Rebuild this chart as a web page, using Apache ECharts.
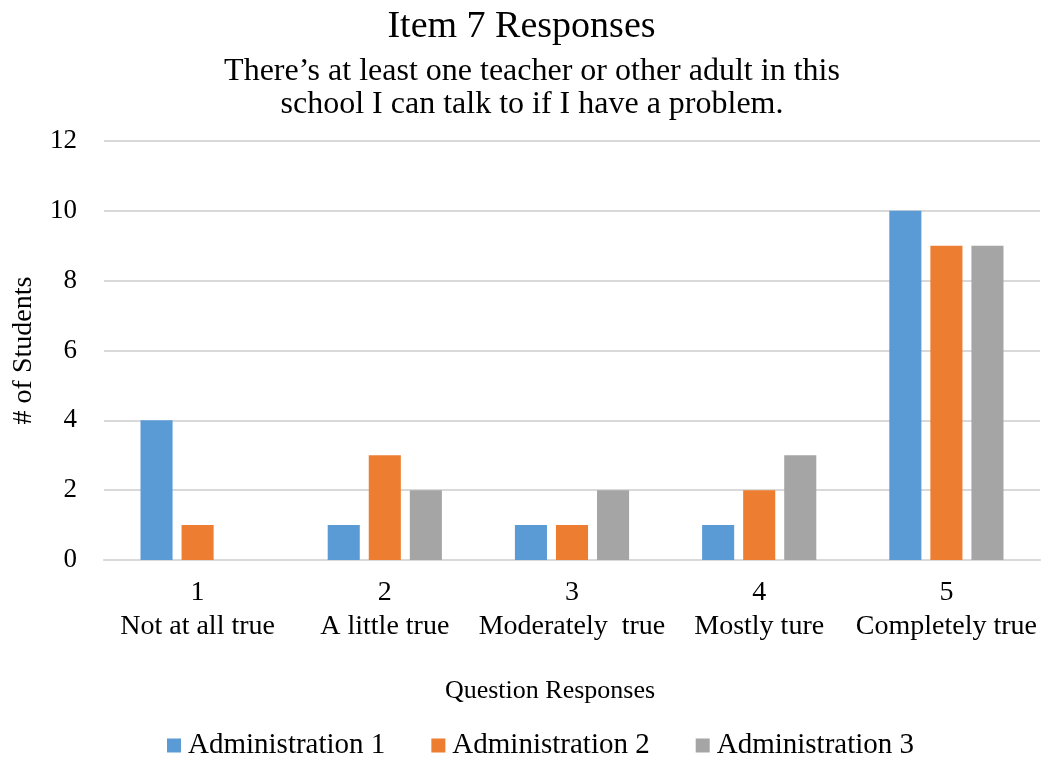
<!DOCTYPE html>
<html>
<head>
<meta charset="utf-8">
<script src="https://cdn.jsdelivr.net/npm/echarts@6/dist/echarts.min.js"></script>
<style>
  html, body { margin: 0; padding: 0; background: #fff; }
  #chart { width: 1043px; height: 757px; }
</style>
</head>
<body>
<div id="chart"></div>
<script>
// Response scale categories (number + description)
const categories = ['1\nNot at all true', '2\nA little true', '3\nModerately  true', '4\nMostly ture', '5\nCompletely true'];
const seriesNames = ['Administration 1', 'Administration 2', 'Administration 3'];
const admin1 = [4, 1, 1, 1, 10];
const admin2 = [1, 3, 1, 2, 9];
const admin3 = [0, 2, 2, 3, 9];
const yTicks = { min: 0, max: 12, step: 2 };
const colors = ['#5B9BD5', '#ED7D31', '#A5A5A5'];

const FONT = '"Liberation Serif", "Times New Roman", serif';

const chart = echarts.init(document.getElementById('chart'), null, { renderer: 'canvas' });

const barSeries = [admin1, admin2, admin3].map((values, i) => ({
  name: seriesNames[i],
  type: 'bar',
  data: values,
  barGap: '28%',
  barCategoryGap: '39%',
  itemStyle: { color: colors[i] },
  emphasis: { disabled: true }
}));

chart.setOption({
  animation: false,
  textStyle: { fontFamily: FONT, color: '#000' },
  title: [
    {
      text: 'Item 7 Responses',
      left: 'center',
      top: 8,
      padding: 0,
      textStyle: { fontFamily: FONT, fontSize: 38, fontWeight: 'normal', color: '#000', lineHeight: 38 }
    },
    {
      text: 'There\u2019s at least one teacher or other adult in this\nschool I can talk to if I have a problem.',
      left: 532,
      top: 55,
      padding: 0,
      textAlign: 'center',
      textStyle: { fontFamily: FONT, fontSize: 32, fontWeight: 'normal', color: '#000', lineHeight: 33, align: 'center' }
    }
  ],
  legend: {
    top: 731,
    left: 167,
    padding: 0,
    itemWidth: 14,
    itemHeight: 14,
    itemGap: 46,
    icon: 'rect',
    textStyle: { fontFamily: FONT, fontSize: 29, color: '#000', padding: [0, 0, 0, 2] },
    data: seriesNames
  },
  grid: { left: 104, right: 3, top: 141, bottom: 197, containLabel: false },
  xAxis: {
    type: 'category',
    data: categories,
    name: 'Question Responses',
    nameLocation: 'middle',
    nameGap: 118,
    nameTextStyle: { fontFamily: FONT, fontSize: 26, color: '#000', padding: [0, 44, 0, 0] },
    axisLine: { show: true, lineStyle: { color: '#d9d9d9', width: 2 } },
    axisTick: { show: false },
    axisLabel: { fontFamily: FONT, fontSize: 28, color: '#000', lineHeight: 34, margin: 16, interval: 0 }
  },
  yAxis: {
    type: 'value',
    min: yTicks.min,
    max: yTicks.max,
    interval: yTicks.step,
    name: '# of Students',
    nameLocation: 'middle',
    nameRotate: 90,
    nameGap: 66,
    nameTextStyle: { fontFamily: FONT, fontSize: 28, color: '#000' },
    axisLine: { show: false },
    axisTick: { show: false },
    axisLabel: { fontFamily: FONT, fontSize: 27, color: '#000', margin: 27 },
    splitLine: { lineStyle: { color: '#d9d9d9', width: 2 } }
  },
  series: barSeries
});
</script>
</body>
</html>
